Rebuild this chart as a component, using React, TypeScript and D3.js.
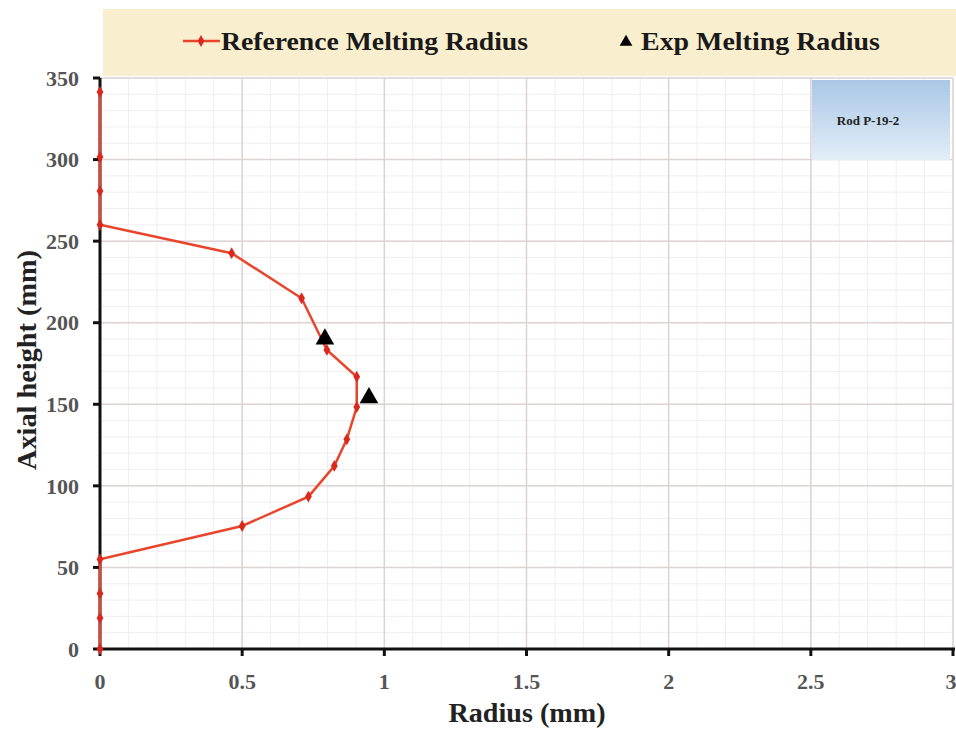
import React from "react";
import * as d3 from "d3";

const refRadius = [0, 0, 0, 0, 0.5, 0.733, 0.824, 0.868, 0.903, 0.903, 0.798, 0.709, 0.463, 0, 0, 0, 0];
const refHeight = [0, 19, 34, 55, 75.4, 93.4, 112.2, 128.5, 148.3, 166.9, 183.3, 215, 242.6, 260, 280.7, 301.6, 341.4];
const expRadius = [0.791, 0.946];
const expHeight = [190, 154];
const xTicks = [0, 0.5, 1, 1.5, 2, 2.5, 3];
const yTicks = [0, 50, 100, 150, 200, 250, 300, 350];
const seriesNames = ["Reference Melting Radius", "Exp Melting Radius"];
const rodLabel = "Rod P-19-2";

const W = 956;
const H = 731;
const L = 100, R = 953, T = 78, B = 649;

export default function App() {
  const x = d3.scaleLinear().domain([0, 3]).range([L, R]);
  const y = d3.scaleLinear().domain([0, 350]).range([B, T]);
  const line = d3.line<number>().x((_, i) => x(refRadius[i])).y((_, i) => y(refHeight[i]));
  const minorX = d3.range(0, 3.0001, 0.1);
  const minorY = d3.range(0, 350.001, 10);
  const tri = d3.symbol().type(d3.symbolTriangle).size(150)() as string;
  const dia = d3.symbol().type(d3.symbolDiamond).size(40)() as string;
  const serif = "'Liberation Serif', 'Times New Roman', serif";
  return (
    <svg width={W} height={H} style={{ position: "absolute", left: 0, top: 0, background: "#fff" }}>
      <defs>
        <linearGradient id="rodg" x1="0" y1="0" x2="0" y2="1">
          <stop offset="0" stopColor="#a9c7e6" />
          <stop offset="1" stopColor="#e3eef8" />
        </linearGradient>
      </defs>
      <rect x={0} y={0} width={W} height={H} fill="#fff" />
      {/* legend background */}
      <rect x={103} y={9} width={853} height={67} fill="#f9efcf" />
      {/* minor grid */}
      {minorX.map((v, i) => (
        <line key={"mx" + i} x1={x(v)} x2={x(v)} y1={T} y2={B} stroke="#f1eef0" strokeWidth={1} />
      ))}
      {minorY.map((v, i) => (
        <line key={"my" + i} x1={L} x2={R} y1={y(v)} y2={y(v)} stroke="#f1eef0" strokeWidth={1} />
      ))}
      {/* major grid */}
      {xTicks.map((v, i) => (
        <line key={"gx" + i} x1={x(v)} x2={x(v)} y1={T} y2={B} stroke="#ddd3d3" strokeWidth={1.5} />
      ))}
      {yTicks.map((v, i) => (
        <line key={"gy" + i} x1={L} x2={R} y1={y(v)} y2={y(v)} stroke="#ddd3d3" strokeWidth={1.5} />
      ))}
      {/* rod label box */}
      <rect x={812} y={80} width={138} height={80} fill="url(#rodg)" />
      <text x={868} y={125} textAnchor="middle" fontFamily={serif} fontWeight="bold" fontSize={13} fill="#222">
        {rodLabel}
      </text>
      {/* axes */}
      <line x1={L} x2={L} y1={T} y2={B + 1.5} stroke="#111" strokeWidth={3} />
      <line x1={L - 1.5} x2={R + 2} y1={B} y2={B} stroke="#111" strokeWidth={3} />
      {yTicks.map((v, i) => (
        <g key={"yt" + i}>
          <line x1={L - 7} x2={L} y1={y(v)} y2={y(v)} stroke="#111" strokeWidth={3} />
          <text x={79} y={y(v)} dy="0.35em" textAnchor="end" fontFamily={serif} fontWeight="bold" fontSize={22} fill="#555">
            {v}
          </text>
        </g>
      ))}
      {xTicks.map((v, i) => (
        <g key={"xt" + i}>
          <line x1={x(v)} x2={x(v)} y1={B} y2={B + 7} stroke="#111" strokeWidth={3} />
          <text x={i === xTicks.length - 1 ? x(v) - 2 : x(v)} y={689} textAnchor="middle" fontFamily={serif} fontWeight="bold" fontSize={22} fill="#555">
            {v}
          </text>
        </g>
      ))}
      <text x={527} y={722} textAnchor="middle" fontFamily={serif} fontWeight="bold" fontSize={27} fill="#222" textLength={157} lengthAdjust="spacingAndGlyphs">
        Radius (mm)
      </text>
      <text transform="translate(36,360) rotate(-90)" textAnchor="middle" fontFamily={serif} fontWeight="bold" fontSize={27} fill="#222" textLength={220} lengthAdjust="spacingAndGlyphs">
        Axial height (mm)
      </text>
      {/* reference series */}
      <path d={line(refRadius) || ""} fill="none" stroke="#e8452c" strokeWidth={2.5} />
      {refRadius.map((v, i) => (
        <path key={"rp" + i} d={dia} transform={`translate(${x(v)},${y(refHeight[i])})`} fill="#d9291e" />
      ))}
      {/* exp series */}
      {expRadius.map((v, i) => (
        <path key={"ep" + i} d={tri} transform={`translate(${x(v)},${y(expHeight[i])})`} fill="#000" />
      ))}
      {/* legend */}
      <line x1={183} x2={220} y1={41} y2={41} stroke="#e8452c" strokeWidth={2.5} />
      <path d={dia} transform="translate(201,41)" fill="#d9291e" />
      <text x={221} y={50} fontFamily={serif} fontWeight="bold" fontSize={26} fill="#1a1a1a" textLength={307} lengthAdjust="spacingAndGlyphs">
        {seriesNames[0]}
      </text>
      <path d={d3.symbol().type(d3.symbolTriangle).size(70)() as string} transform="translate(626,42)" fill="#000" />
      <text x={641} y={50} fontFamily={serif} fontWeight="bold" fontSize={26} fill="#1a1a1a" textLength={239} lengthAdjust="spacingAndGlyphs">
        {seriesNames[1]}
      </text>
    </svg>
  );
}
